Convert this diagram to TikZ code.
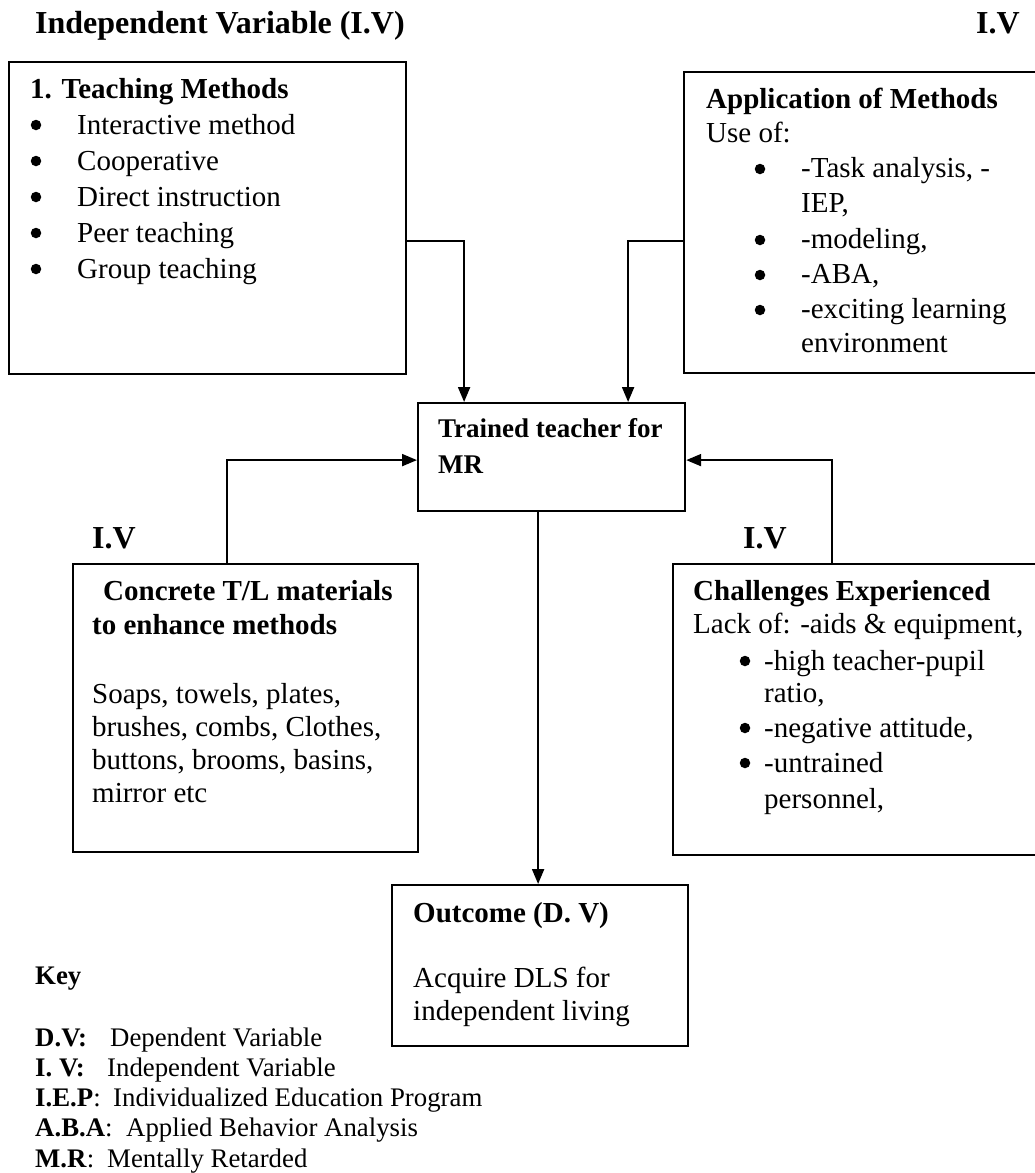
\documentclass[tikz,border=0pt]{standalone}
\usepackage{fontspec}
\setmainfont{Liberation Serif}
\usetikzlibrary{arrows.meta}
\newcommand\bodyfont{\fontsize{29}{35}\selectfont}
\newcommand\bodybold{\fontsize{29}{35}\selectfont\bfseries}
\newcommand\midbold{\fontsize{27}{33}\selectfont\bfseries}
\newcommand\headfont{\fontsize{32}{38}\selectfont\bfseries}
\newcommand\keyfont{\fontsize{26.8}{30}\selectfont}
\begin{document}
\begin{tikzpicture}[x=1pt,y=-1pt,
  box/.style={draw, line width=2.2pt, anchor=north west, inner sep=0pt},
  txt/.style={anchor=base west, inner sep=0pt, font=\bodyfont},
  btxt/.style={anchor=base west, inner sep=0pt, font=\bodybold},
  htxt/.style={anchor=base west, inner sep=0pt, font=\headfont},
  ktxt/.style={anchor=base west, inner sep=0pt, font=\keyfont},
  bul/.style={circle, fill, inner sep=0pt, minimum size=10.5pt},
  arr/.style={line width=2pt, -{Triangle[length=15pt,width=12pt]}}]
\useasboundingbox (0,0) rectangle (1035,1173);
\clip (0,0) rectangle (1035,1173);
\fill[white] (0,0) rectangle (1035,1173);

% headings
\node[htxt] (title) at (35,33) {Independent Variable (I.V)};
\node[htxt] (ivtr) at (976,33) {I.V};
\node[htxt] (ivl) at (92,548) {I.V};
\node[htxt] (ivr) at (743,548) {I.V};

% boxes
\node[box, minimum width=397pt, minimum height=312pt] (b1) at (8,61) {};
\node[box, minimum width=362pt, minimum height=301pt] (app) at (683,71) {};
\node[box, minimum width=267pt, minimum height=108pt] (tc) at (417,402) {};
\node[box, minimum width=345pt, minimum height=288pt] (con) at (72,563) {};
\node[box, minimum width=373pt, minimum height=291pt] (ch) at (672,563) {};
\node[box, minimum width=296pt, minimum height=161pt] (out) at (391,884) {};

% box 1 text
\node[btxt] (b1h) at (30,98) {1. Teaching Methods};
\foreach \t [count=\i] in {Interactive method, Cooperative, Direct instruction, Peer teaching, Group teaching} {
  \node[bul] (b1b\i) at (36,{89+36*\i}) {};
  \node[txt] (b1t\i) at (77,{98+36*\i}) {\t};
}

% application text
\node[btxt] (apph) at (706,108) {Application of Methods};
\node[txt] (appu) at (706,142) {Use of:};
\node[bul] (appb1) at (760,169) {};
\node[txt] (appt1) at (801,177) {-Task analysis, -};
\node[txt] (appt1b) at (801,212) {IEP,};
\node[bul] (appb2) at (760,240) {};
\node[txt] (appt2) at (801,248) {-modeling,};
\node[bul] (appb3) at (760,275) {};
\node[txt] (appt3) at (801,283) {-ABA,};
\node[bul] (appb4) at (760,310) {};
\node[txt] (appt4) at (801,318) {-exciting learning};
\node[txt] (appt4b) at (801,352) {environment};

% centre text
\node[anchor=base west, inner sep=0pt, font=\midbold] (tc1) at (438,437) {Trained teacher for};
\node[anchor=base west, inner sep=0pt, font=\midbold] (tc2) at (438,473) {MR};

% concrete text
\node[btxt] (con1) at (103,600) {Concrete T/L materials};
\node[btxt] (con2) at (92,634) {to enhance methods};
\node[txt] (con3) at (92,703) {Soaps, towels, plates,};
\node[txt] (con4) at (92,736) {brushes, combs, Clothes,};
\node[txt] (con5) at (92,769) {buttons, brooms, basins,};
\node[txt] (con6) at (92,802) {mirror etc};

% challenges text
\node[btxt] (ch1) at (693,600) {Challenges Experienced};
\node[txt] (ch2) at (693,633) {Lack of: -aids \& equipment,};
\node[bul] (chb1) at (745,661) {};
\node[txt] (ch3) at (764,670) {-high teacher-pupil};
\node[txt] (ch3b) at (764,702) {ratio,};
\node[bul] (chb2) at (745,728) {};
\node[txt] (ch4) at (764,737) {-negative attitude,};
\node[bul] (chb3) at (745,763) {};
\node[txt] (ch5) at (764,772) {-untrained};
\node[txt] (ch5b) at (764,808) {personnel,};

% outcome text
\node[btxt] (out1) at (413,922) {Outcome (D. V)};
\node[txt] (out2) at (413,987) {Acquire DLS for};
\node[txt] (out3) at (413,1020) {independent living};

% key
\node[ktxt, font=\keyfont\bfseries] (key) at (35,984) {Key};
\node[ktxt] (k1) at (35,1046) {\makebox[75pt][l]{\textbf{D.V:}}Dependent Variable};
\node[ktxt] (k2) at (35,1076) {\makebox[72pt][l]{\textbf{I. V:}}Independent Variable};
\node[ktxt] (k3) at (35,1106) {\makebox[78pt][l]{\textbf{I.E.P}:}Individualized Education Program};
\node[ktxt] (k4) at (35,1136) {\makebox[91pt][l]{\textbf{A.B.A}:}Applied Behavior Analysis};
\node[ktxt] (k5) at (35,1167) {\makebox[72pt][l]{\textbf{M.R}:}Mentally Retarded};

% connectors
\draw[arr] ([yshift=-23pt]b1.east) -| ([xshift=-87.5pt]tc.north);
\draw[arr] ([yshift=-18.5pt]app.west) -| ([xshift=76.5pt]tc.north);
\draw[arr] ([xshift=-18.5pt]con.north) |- ([yshift=-3pt]tc.west);
\draw[arr] ([xshift=-27.5pt]ch.north) |- ([yshift=-3pt]tc.east);
\draw[arr] ([xshift=-13.5pt]tc.south) -- ([xshift=-13.5pt]tc.south |- out.north);
\end{tikzpicture}
\end{document}
